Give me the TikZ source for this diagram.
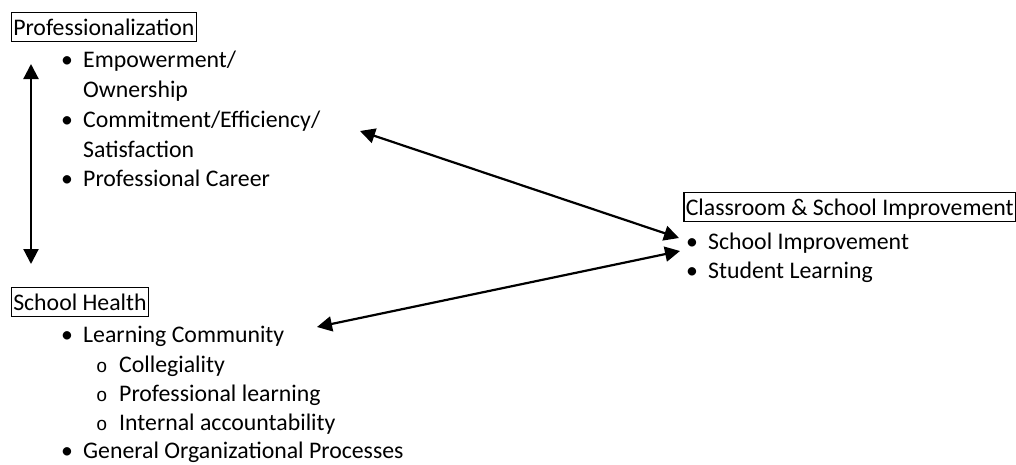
\documentclass[tikz,border=0pt]{standalone}
\usepackage{fontspec}
\setmainfont{Carlito}
\newfontfamily\monofont{Liberation Mono}
\usetikzlibrary{arrows.meta}
\begin{document}
\begin{tikzpicture}[x=1pt,y=-1pt,
  every node/.style={inner sep=0pt, anchor=base west, font=\fontsize{23.8}{28}\selectfont},
  titlebox/.style={draw, line width=1.5pt, inner xsep=2pt, inner ysep=0pt, text height=22.5pt, text depth=6.5pt},
  dotb/.style={},
  ringb/.style={font=\fontsize{19}{22}\monofont},
  link/.style={line width=2.2pt, {Triangle[length=15pt,width=15pt]}-{Triangle[length=15pt,width=15pt]}}]
\useasboundingbox (0,0) rectangle (1016,464);
% Professionalization
\node[titlebox] (prof) at (10.5,35) {Professionalization};
\node[dotb] (pb1) at (61,67) {•};
\node (emp) at (83,67) {Empowerment/};
\node (own) at (83,97) {Ownership};
\node[dotb] (pb2) at (61,127) {•};
\node (com) at (83,127) {Commitment/Efficiency/};
\node (sat) at (83,157) {Satisfaction};
\node[dotb] (pb3) at (61,186) {•};
\node (car) at (83,186) {Professional Career};
% School Health
\node[titlebox] (health) at (10.5,310) {School Health};
\node[dotb] (hb1) at (61,342) {•};
\node (lc) at (83,342) {Learning Community};
\node[ringb] (hr1) at (96,372) {o};
\node (col) at (119,372) {Collegiality};
\node[ringb] (hr2) at (96,401) {o};
\node (pl) at (119,401) {Professional learning};
\node[ringb] (hr3) at (96,430) {o};
\node (ia) at (119,430) {Internal accountability};
\node[dotb] (hb2) at (61,458) {•};
\node (gop) at (83,458) {General Organizational Processes};
% Classroom
\node[titlebox] (cls) at (683,215) {Classroom \& School Improvement};
\node[dotb] (cb1) at (686,249) {•};
\node (si) at (708,249) {School Improvement};
\node[dotb] (cb2) at (686,278) {•};
\node (sl) at (708,278) {Student Learning};
% connectors
\coordinate (pu) at (31,64);
\coordinate (pd) at (31,264);
\coordinate (a1s) at (360,131);
\coordinate (a1e) at (679,238);
\coordinate (a2s) at (317,327);
\coordinate (a2e) at (680,251);
\draw[link] (pu) -- (pd);
\draw[link] (a1s) -- (a1e);
\draw[link] (a2s) -- (a2e);
\end{tikzpicture}
\end{document}
